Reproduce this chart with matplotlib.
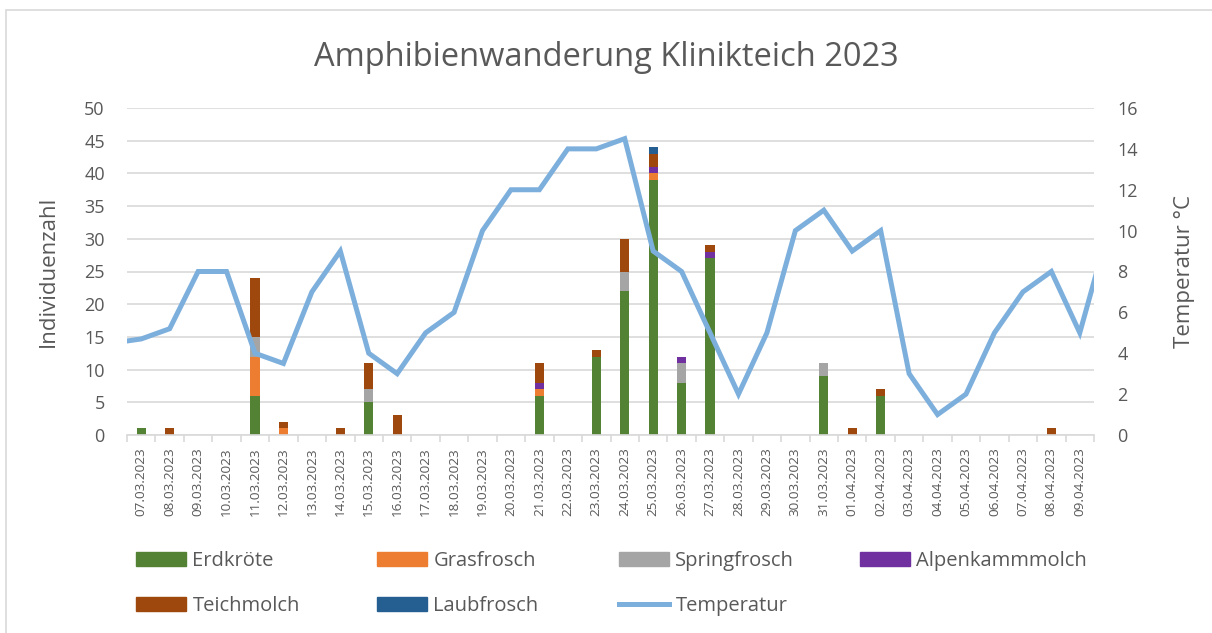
import numpy as np
import matplotlib.pyplot as plt
from matplotlib.patches import Rectangle
from matplotlib.lines import Line2D

plt.rcParams['font.family'] = ['Open Sans', 'DejaVu Sans']

dates = ['07.03.2023', '08.03.2023', '09.03.2023', '10.03.2023', '11.03.2023',
         '12.03.2023', '13.03.2023', '14.03.2023', '15.03.2023', '16.03.2023',
         '17.03.2023', '18.03.2023', '19.03.2023', '20.03.2023', '21.03.2023',
         '22.03.2023', '23.03.2023', '24.03.2023', '25.03.2023', '26.03.2023',
         '27.03.2023', '28.03.2023', '29.03.2023', '30.03.2023', '31.03.2023',
         '01.04.2023', '02.04.2023', '03.04.2023', '04.04.2023', '05.04.2023',
         '06.04.2023', '07.04.2023', '08.04.2023', '09.04.2023']

erdkroete      = [1, 0, 0, 0, 6, 0, 0, 0, 5, 0, 0, 0, 0, 0, 6, 0, 12, 22, 39, 8, 27, 0, 0, 0, 9, 0, 6, 0, 0, 0, 0, 0, 0, 0]
grasfrosch     = [0, 0, 0, 0, 6, 1, 0, 0, 0, 0, 0, 0, 0, 0, 1, 0, 0, 0, 1, 0, 0, 0, 0, 0, 0, 0, 0, 0, 0, 0, 0, 0, 0, 0]
springfrosch   = [0, 0, 0, 0, 3, 0, 0, 0, 2, 0, 0, 0, 0, 0, 0, 0, 0, 3, 0, 3, 0, 0, 0, 0, 2, 0, 0, 0, 0, 0, 0, 0, 0, 0]
alpenkammmolch = [0, 0, 0, 0, 0, 0, 0, 0, 0, 0, 0, 0, 0, 0, 1, 0, 0, 0, 1, 1, 1, 0, 0, 0, 0, 0, 0, 0, 0, 0, 0, 0, 0, 0]
teichmolch     = [0, 1, 0, 0, 9, 1, 0, 1, 4, 3, 0, 0, 0, 0, 3, 0, 1, 5, 2, 0, 1, 0, 0, 0, 0, 1, 1, 0, 0, 0, 0, 0, 1, 0]
laubfrosch     = [0, 0, 0, 0, 0, 0, 0, 0, 0, 0, 0, 0, 0, 0, 0, 0, 0, 0, 1, 0, 0, 0, 0, 0, 0, 0, 0, 0, 0, 0, 0, 0, 0, 0]

# temperature series also has one day before and after the visible range (cut off at the edges)
temp_dates = ['06.03.2023'] + dates + ['10.04.2023']
temperatur = [4.5, 4.7, 5.2, 8, 8, 4, 3.5, 7, 9, 4, 3, 5, 6, 10, 12, 12, 14, 14, 14.5,
              9, 8, 5, 2, 5, 10, 11, 9, 10, 3, 1, 2, 5, 7, 8, 5, 10]

series = [('Erdkröte', erdkroete, '#548235'),
          ('Grasfrosch', grasfrosch, '#ED7D31'),
          ('Springfrosch', springfrosch, '#A5A5A5'),
          ('Alpenkammmolch', alpenkammmolch, '#7030A0'),
          ('Teichmolch', teichmolch, '#9E480E'),
          ('Laubfrosch', laubfrosch, '#255E91')]
line_color = '#7DAFDD'
txt = '#595959'

fig = plt.figure(figsize=(12.12, 6.33), dpi=100)
fig.patches.append(Rectangle((6 / 1212, -0.1), 1.2, (633 - 10) / 633 + 0.1,
                             transform=fig.transFigure, fill=False,
                             edgecolor='#D9D9D9', linewidth=1.2))

ax = fig.add_axes([127 / 1212, 1 - 435 / 633, (1094 - 127) / 1212, (435 - 108) / 633])
x = np.arange(len(dates))
bottom = np.zeros(len(dates))
for name, vals, col in series:
    vals = np.array(vals)
    ax.bar(x, vals, 0.32, bottom=bottom, color=col, label=name, zorder=2)
    bottom += vals

ax.set_xlim(-0.5, len(dates) - 0.5)
ax.set_ylim(0, 50)
ax.set_yticks(range(0, 51, 5))
ax.grid(axis='y', color='#D9D9D9', linewidth=1.2, zorder=0)
ax.set_axisbelow(True)
for s in ['top', 'right', 'left']:
    ax.spines[s].set_visible(False)
ax.spines['bottom'].set_color('#D9D9D9')
ax.spines['bottom'].set_linewidth(1.2)
ax.set_xticks(x)
ax.set_xticklabels(dates, rotation=90, fontsize=9.7, color=txt)
ax.tick_params(axis='x', length=0, pad=9)
ax.set_xticks(np.arange(-0.5, len(dates)), minor=True)
ax.tick_params(axis='x', which='minor', length=5, color='#D9D9D9', width=1.2)
ax.tick_params(axis='y', length=0, pad=16, labelsize=13, labelcolor=txt)
ax.set_ylabel('Individuenzahl', fontsize=16, color=txt, labelpad=18)

ax2 = ax.twinx()
tx = np.arange(-1, len(dates) + 1)
ax2.plot(tx, temperatur, color=line_color, linewidth=3.6, solid_joinstyle='miter', zorder=3)
ax2.set_xlim(-0.5, len(dates) - 0.5)
ax2.set_ylim(0, 16)
ax2.set_yticks(range(0, 17, 2))
for s in ['top', 'right', 'left', 'bottom']:
    ax2.spines[s].set_visible(False)
ax2.tick_params(axis='y', length=0, pad=17, labelsize=13, labelcolor=txt)
ax2.set_ylabel('Temperatur °C', fontsize=16, color=txt, labelpad=26)

fig.text(0.5, 1 - 57 / 633, 'Amphibienwanderung Klinikteich 2023', ha='center', va='center',
         fontsize=23.5, color=txt)

# legend: four equal-width columns, two rows (one legend per column)
handles = [Rectangle((0, 0), 1, 1, color=c) for _, _, c in series]
handles.append(Line2D([0], [0], color=line_color, linewidth=3.6))
labels = [n for n, _, _ in series] + ['Temperatur']
col_x = [136, 377, 619, 860]
for c, xpos in enumerate(col_x):
    idx = [i for i in (c, c + 4) if i < len(labels)]
    fig.legend([handles[i] for i in idx], [labels[i] for i in idx],
               loc='upper left', bbox_to_anchor=(xpos / 1212, 1 - 551 / 633),
               frameon=False, fontsize=14.5, labelcolor=txt, handlelength=2.5,
               handleheight=0.65, handletextpad=0.3, labelspacing=1.25,
               borderpad=0, borderaxespad=0)

fig.savefig('out.png', dpi=100)
